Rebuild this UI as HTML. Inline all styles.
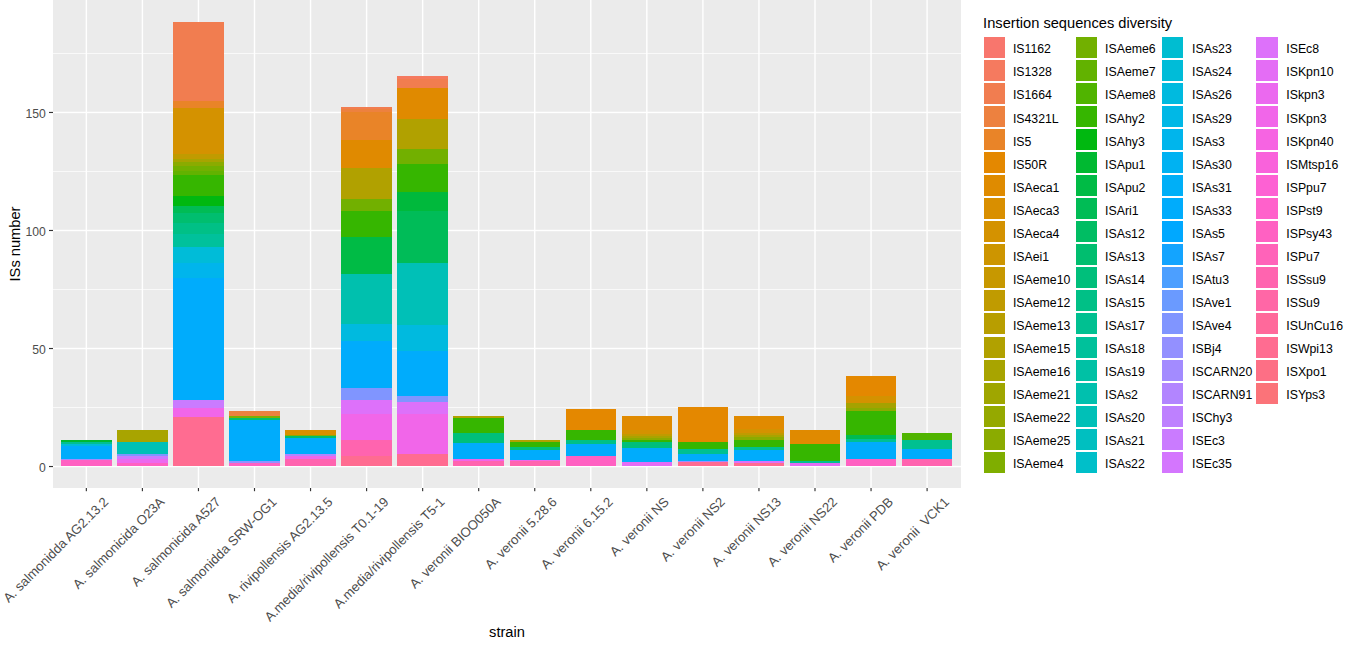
<!DOCTYPE html>
<html><head><meta charset="utf-8"><style>
html,body{margin:0;padding:0;background:#fff;}
body{width:1354px;height:647px;overflow:hidden;}
svg{display:block;}
text{font-family:"Liberation Sans",sans-serif;}
.ax{font-size:13.2px;fill:#4D4D4D;}
.ay{font-size:12.2px;fill:#4D4D4D;}
.ti{font-size:14.67px;fill:#000;}
.lg{font-size:12.3px;fill:#000;}
</style></head><body>
<svg width="1354" height="647" viewBox="0 0 1354 647">
<rect width="1354" height="647" fill="#fff"/>
<rect x="53" y="0" width="908" height="488" fill="#EBEBEB"/>
<rect x="53" y="407.16" width="908" height="0.71" fill="#FFFFFF"/>
<rect x="53" y="289.14" width="908" height="0.71" fill="#FFFFFF"/>
<rect x="53" y="171.13" width="908" height="0.71" fill="#FFFFFF"/>
<rect x="53" y="53.1" width="908" height="0.71" fill="#FFFFFF"/>
<rect x="53" y="465.82" width="908" height="1.42" fill="#FFFFFF"/>
<rect x="53" y="347.8" width="908" height="1.42" fill="#FFFFFF"/>
<rect x="53" y="229.78" width="908" height="1.42" fill="#FFFFFF"/>
<rect x="53" y="111.76" width="908" height="1.42" fill="#FFFFFF"/>
<rect x="85.64" y="0" width="1.42" height="488" fill="#FFFFFF"/>
<rect x="141.69" y="0" width="1.42" height="488" fill="#FFFFFF"/>
<rect x="197.74" y="0" width="1.42" height="488" fill="#FFFFFF"/>
<rect x="253.79" y="0" width="1.42" height="488" fill="#FFFFFF"/>
<rect x="309.84" y="0" width="1.42" height="488" fill="#FFFFFF"/>
<rect x="365.89" y="0" width="1.42" height="488" fill="#FFFFFF"/>
<rect x="421.94" y="0" width="1.42" height="488" fill="#FFFFFF"/>
<rect x="477.99" y="0" width="1.42" height="488" fill="#FFFFFF"/>
<rect x="534.04" y="0" width="1.42" height="488" fill="#FFFFFF"/>
<rect x="590.09" y="0" width="1.42" height="488" fill="#FFFFFF"/>
<rect x="646.14" y="0" width="1.42" height="488" fill="#FFFFFF"/>
<rect x="702.19" y="0" width="1.42" height="488" fill="#FFFFFF"/>
<rect x="758.24" y="0" width="1.42" height="488" fill="#FFFFFF"/>
<rect x="814.29" y="0" width="1.42" height="488" fill="#FFFFFF"/>
<rect x="870.34" y="0" width="1.42" height="488" fill="#FFFFFF"/>
<rect x="926.39" y="0" width="1.42" height="488" fill="#FFFFFF"/>
<rect x="61" y="460" width="51" height="6" fill="#FF61C2" shape-rendering="crispEdges"/>
<rect x="61" y="459" width="51" height="1" fill="#A38BFF" shape-rendering="crispEdges"/>
<rect x="61" y="446" width="51" height="13" fill="#00ACFC" shape-rendering="crispEdges"/>
<rect x="61" y="444" width="51" height="2" fill="#00BCD8" shape-rendering="crispEdges"/>
<rect x="61" y="442" width="51" height="2" fill="#00C091" shape-rendering="crispEdges"/>
<rect x="61" y="440" width="51" height="2" fill="#00B931" shape-rendering="crispEdges"/>
<rect x="117" y="463" width="51" height="3" fill="#FF61C2" shape-rendering="crispEdges"/>
<rect x="117" y="459" width="51" height="4" fill="#EB69EF" shape-rendering="crispEdges"/>
<rect x="117" y="456" width="51" height="3" fill="#CA7BFF" shape-rendering="crispEdges"/>
<rect x="117" y="454" width="51" height="2" fill="#8095FF" shape-rendering="crispEdges"/>
<rect x="117" y="442" width="51" height="12" fill="#00C0B7" shape-rendering="crispEdges"/>
<rect x="117" y="430" width="51" height="12" fill="#A8A400" shape-rendering="crispEdges"/>
<rect x="173" y="417" width="51" height="49" fill="#FF6C91" shape-rendering="crispEdges"/>
<rect x="173" y="408" width="51" height="9" fill="#F166E9" shape-rendering="crispEdges"/>
<rect x="173" y="400" width="51" height="8" fill="#CA7BFF" shape-rendering="crispEdges"/>
<rect x="173" y="278" width="51" height="122" fill="#00ACFC" shape-rendering="crispEdges"/>
<rect x="173" y="263" width="51" height="15" fill="#00B5EC" shape-rendering="crispEdges"/>
<rect x="173" y="247" width="51" height="16" fill="#00BCD8" shape-rendering="crispEdges"/>
<rect x="173" y="234" width="51" height="13" fill="#00C19B" shape-rendering="crispEdges"/>
<rect x="173" y="223" width="51" height="11" fill="#00C086" shape-rendering="crispEdges"/>
<rect x="173" y="213" width="51" height="10" fill="#00BE6F" shape-rendering="crispEdges"/>
<rect x="173" y="206" width="51" height="7" fill="#00BC55" shape-rendering="crispEdges"/>
<rect x="173" y="196" width="51" height="10" fill="#00B810" shape-rendering="crispEdges"/>
<rect x="173" y="175" width="51" height="21" fill="#36B600" shape-rendering="crispEdges"/>
<rect x="173" y="171" width="51" height="4" fill="#62B200" shape-rendering="crispEdges"/>
<rect x="173" y="166" width="51" height="5" fill="#72B000" shape-rendering="crispEdges"/>
<rect x="173" y="162" width="51" height="4" fill="#8BAB00" shape-rendering="crispEdges"/>
<rect x="173" y="159" width="51" height="3" fill="#A8A400" shape-rendering="crispEdges"/>
<rect x="173" y="154" width="51" height="5" fill="#C09B00" shape-rendering="crispEdges"/>
<rect x="173" y="108" width="51" height="46" fill="#D49200" shape-rendering="crispEdges"/>
<rect x="173" y="101" width="51" height="7" fill="#E98428" shape-rendering="crispEdges"/>
<rect x="173" y="22" width="51" height="79" fill="#F17D50" shape-rendering="crispEdges"/>
<rect x="229" y="463" width="51" height="3" fill="#FF61C2" shape-rendering="crispEdges"/>
<rect x="229" y="461" width="51" height="2" fill="#9390FF" shape-rendering="crispEdges"/>
<rect x="229" y="420" width="51" height="41" fill="#00ACFC" shape-rendering="crispEdges"/>
<rect x="229" y="418" width="51" height="2" fill="#00BE6F" shape-rendering="crispEdges"/>
<rect x="229" y="416" width="51" height="2" fill="#7FAE00" shape-rendering="crispEdges"/>
<rect x="229" y="411" width="51" height="5" fill="#ED813F" shape-rendering="crispEdges"/>
<rect x="285" y="459" width="51" height="7" fill="#FF64AF" shape-rendering="crispEdges"/>
<rect x="285" y="456" width="51" height="3" fill="#F166E9" shape-rendering="crispEdges"/>
<rect x="285" y="454" width="51" height="2" fill="#B285FF" shape-rendering="crispEdges"/>
<rect x="285" y="438" width="51" height="16" fill="#00ACFC" shape-rendering="crispEdges"/>
<rect x="285" y="436" width="51" height="2" fill="#00BE6F" shape-rendering="crispEdges"/>
<rect x="285" y="435" width="51" height="1" fill="#8BAB00" shape-rendering="crispEdges"/>
<rect x="285" y="430" width="51" height="5" fill="#D98F00" shape-rendering="crispEdges"/>
<rect x="341" y="456" width="51" height="10" fill="#FF6C91" shape-rendering="crispEdges"/>
<rect x="341" y="440" width="51" height="16" fill="#FF64AF" shape-rendering="crispEdges"/>
<rect x="341" y="414" width="51" height="26" fill="#F166E9" shape-rendering="crispEdges"/>
<rect x="341" y="400" width="51" height="14" fill="#DD71FA" shape-rendering="crispEdges"/>
<rect x="341" y="388" width="51" height="12" fill="#8095FF" shape-rendering="crispEdges"/>
<rect x="341" y="341" width="51" height="47" fill="#00ACFC" shape-rendering="crispEdges"/>
<rect x="341" y="324" width="51" height="17" fill="#00BADF" shape-rendering="crispEdges"/>
<rect x="341" y="274" width="51" height="50" fill="#00C0AE" shape-rendering="crispEdges"/>
<rect x="341" y="237" width="51" height="37" fill="#00BB45" shape-rendering="crispEdges"/>
<rect x="341" y="211" width="51" height="26" fill="#36B600" shape-rendering="crispEdges"/>
<rect x="341" y="199" width="51" height="12" fill="#72B000" shape-rendering="crispEdges"/>
<rect x="341" y="168" width="51" height="31" fill="#B1A100" shape-rendering="crispEdges"/>
<rect x="341" y="140" width="51" height="28" fill="#E08A00" shape-rendering="crispEdges"/>
<rect x="341" y="112" width="51" height="28" fill="#E98428" shape-rendering="crispEdges"/>
<rect x="341" y="109" width="51" height="3" fill="#ED813F" shape-rendering="crispEdges"/>
<rect x="341" y="107" width="51" height="2" fill="#F17D50" shape-rendering="crispEdges"/>
<rect x="397" y="454" width="51" height="12" fill="#FF6C91" shape-rendering="crispEdges"/>
<rect x="397" y="414" width="51" height="40" fill="#F166E9" shape-rendering="crispEdges"/>
<rect x="397" y="402" width="51" height="12" fill="#DD71FA" shape-rendering="crispEdges"/>
<rect x="397" y="396" width="51" height="6" fill="#8095FF" shape-rendering="crispEdges"/>
<rect x="397" y="351" width="51" height="45" fill="#00ACFC" shape-rendering="crispEdges"/>
<rect x="397" y="325" width="51" height="26" fill="#00BADF" shape-rendering="crispEdges"/>
<rect x="397" y="263" width="51" height="62" fill="#00C0B7" shape-rendering="crispEdges"/>
<rect x="397" y="211" width="51" height="52" fill="#00BC58" shape-rendering="crispEdges"/>
<rect x="397" y="192" width="51" height="19" fill="#00B93C" shape-rendering="crispEdges"/>
<rect x="397" y="164" width="51" height="28" fill="#36B600" shape-rendering="crispEdges"/>
<rect x="397" y="149" width="51" height="15" fill="#72B000" shape-rendering="crispEdges"/>
<rect x="397" y="119" width="51" height="30" fill="#B1A100" shape-rendering="crispEdges"/>
<rect x="397" y="88" width="51" height="31" fill="#E08A00" shape-rendering="crispEdges"/>
<rect x="397" y="79" width="51" height="9" fill="#F17D50" shape-rendering="crispEdges"/>
<rect x="397" y="76" width="51" height="3" fill="#F57A5F" shape-rendering="crispEdges"/>
<rect x="453" y="461" width="51" height="5" fill="#FF64AF" shape-rendering="crispEdges"/>
<rect x="453" y="459" width="51" height="2" fill="#F166E9" shape-rendering="crispEdges"/>
<rect x="453" y="443" width="51" height="16" fill="#00ACFC" shape-rendering="crispEdges"/>
<rect x="453" y="433" width="51" height="10" fill="#00BF7B" shape-rendering="crispEdges"/>
<rect x="453" y="418" width="51" height="15" fill="#36B600" shape-rendering="crispEdges"/>
<rect x="453" y="416" width="51" height="2" fill="#B1A100" shape-rendering="crispEdges"/>
<rect x="510" y="461" width="50" height="5" fill="#FF64AF" shape-rendering="crispEdges"/>
<rect x="510" y="460" width="50" height="1" fill="#F166E9" shape-rendering="crispEdges"/>
<rect x="510" y="450" width="50" height="10" fill="#00ACFC" shape-rendering="crispEdges"/>
<rect x="510" y="447" width="50" height="3" fill="#00BF7B" shape-rendering="crispEdges"/>
<rect x="510" y="442" width="50" height="5" fill="#36B600" shape-rendering="crispEdges"/>
<rect x="510" y="440" width="50" height="2" fill="#B1A100" shape-rendering="crispEdges"/>
<rect x="566" y="456" width="50" height="10" fill="#FF61C2" shape-rendering="crispEdges"/>
<rect x="566" y="444" width="50" height="12" fill="#00ACFC" shape-rendering="crispEdges"/>
<rect x="566" y="440" width="50" height="4" fill="#00C086" shape-rendering="crispEdges"/>
<rect x="566" y="430" width="50" height="10" fill="#36B600" shape-rendering="crispEdges"/>
<rect x="566" y="409" width="50" height="21" fill="#E48800" shape-rendering="crispEdges"/>
<rect x="622" y="462" width="50" height="4" fill="#E46DF5" shape-rendering="crispEdges"/>
<rect x="622" y="448" width="50" height="14" fill="#00ACFC" shape-rendering="crispEdges"/>
<rect x="622" y="442" width="50" height="6" fill="#00BF7B" shape-rendering="crispEdges"/>
<rect x="622" y="440" width="50" height="2" fill="#36B600" shape-rendering="crispEdges"/>
<rect x="622" y="438" width="50" height="2" fill="#8BAB00" shape-rendering="crispEdges"/>
<rect x="622" y="436" width="50" height="2" fill="#A8A400" shape-rendering="crispEdges"/>
<rect x="622" y="434" width="50" height="2" fill="#C09B00" shape-rendering="crispEdges"/>
<rect x="622" y="430" width="50" height="4" fill="#D49200" shape-rendering="crispEdges"/>
<rect x="622" y="416" width="50" height="14" fill="#E08A00" shape-rendering="crispEdges"/>
<rect x="678" y="462" width="50" height="4" fill="#FF6C91" shape-rendering="crispEdges"/>
<rect x="678" y="461" width="50" height="1" fill="#A38BFF" shape-rendering="crispEdges"/>
<rect x="678" y="454" width="50" height="7" fill="#00ACFC" shape-rendering="crispEdges"/>
<rect x="678" y="449" width="50" height="5" fill="#00C091" shape-rendering="crispEdges"/>
<rect x="678" y="442" width="50" height="7" fill="#36B600" shape-rendering="crispEdges"/>
<rect x="678" y="407" width="50" height="35" fill="#E48800" shape-rendering="crispEdges"/>
<rect x="734" y="463" width="50" height="3" fill="#FF6C91" shape-rendering="crispEdges"/>
<rect x="734" y="461" width="50" height="2" fill="#DD71FA" shape-rendering="crispEdges"/>
<rect x="734" y="450" width="50" height="11" fill="#00ACFC" shape-rendering="crispEdges"/>
<rect x="734" y="447" width="50" height="3" fill="#00C091" shape-rendering="crispEdges"/>
<rect x="734" y="440" width="50" height="7" fill="#36B600" shape-rendering="crispEdges"/>
<rect x="734" y="437" width="50" height="3" fill="#8BAB00" shape-rendering="crispEdges"/>
<rect x="734" y="435" width="50" height="2" fill="#A8A400" shape-rendering="crispEdges"/>
<rect x="734" y="433" width="50" height="2" fill="#C09B00" shape-rendering="crispEdges"/>
<rect x="734" y="429" width="50" height="4" fill="#D49200" shape-rendering="crispEdges"/>
<rect x="734" y="416" width="50" height="13" fill="#E08A00" shape-rendering="crispEdges"/>
<rect x="790" y="463" width="50" height="3" fill="#E46DF5" shape-rendering="crispEdges"/>
<rect x="790" y="461" width="50" height="2" fill="#00C091" shape-rendering="crispEdges"/>
<rect x="790" y="444" width="50" height="17" fill="#36B600" shape-rendering="crispEdges"/>
<rect x="790" y="430" width="50" height="14" fill="#E08A00" shape-rendering="crispEdges"/>
<rect x="846" y="459" width="50" height="7" fill="#FF61C2" shape-rendering="crispEdges"/>
<rect x="846" y="442" width="50" height="17" fill="#00ACFC" shape-rendering="crispEdges"/>
<rect x="846" y="439" width="50" height="3" fill="#00C091" shape-rendering="crispEdges"/>
<rect x="846" y="435" width="50" height="4" fill="#00BB50" shape-rendering="crispEdges"/>
<rect x="846" y="411" width="50" height="24" fill="#36B600" shape-rendering="crispEdges"/>
<rect x="846" y="408" width="50" height="3" fill="#8BAB00" shape-rendering="crispEdges"/>
<rect x="846" y="403" width="50" height="5" fill="#A5A200" shape-rendering="crispEdges"/>
<rect x="846" y="396" width="50" height="7" fill="#D49200" shape-rendering="crispEdges"/>
<rect x="846" y="376" width="50" height="20" fill="#E48800" shape-rendering="crispEdges"/>
<rect x="902" y="459" width="50" height="7" fill="#FF64AF" shape-rendering="crispEdges"/>
<rect x="902" y="449" width="50" height="10" fill="#00ACFC" shape-rendering="crispEdges"/>
<rect x="902" y="440" width="50" height="9" fill="#00C091" shape-rendering="crispEdges"/>
<rect x="902" y="433" width="50" height="7" fill="#50B400" shape-rendering="crispEdges"/>
<rect x="49" y="465.95" width="4" height="1.15" fill="#333333"/>
<text x="45.8" y="472.13" text-anchor="end" class="ay">0</text>
<rect x="49" y="347.94" width="4" height="1.15" fill="#333333"/>
<text x="45.8" y="354.11" text-anchor="end" class="ay">50</text>
<rect x="49" y="229.91" width="4" height="1.15" fill="#333333"/>
<text x="45.8" y="236.09" text-anchor="end" class="ay">100</text>
<rect x="49" y="111.89" width="4" height="1.15" fill="#333333"/>
<text x="45.8" y="118.07" text-anchor="end" class="ay">150</text>
<rect x="85.77" y="488" width="1.15" height="3.2" fill="#333333"/>
<text x="109.25" y="502.7" text-anchor="end" class="ax" transform="rotate(-45 109.25 502.7)">A. salmonidda AG2.13.2</text>
<rect x="141.82" y="488" width="1.15" height="3.2" fill="#333333"/>
<text x="165.3" y="502.7" text-anchor="end" class="ax" transform="rotate(-45 165.3 502.7)">A. salmonicida O23A</text>
<rect x="197.88" y="488" width="1.15" height="3.2" fill="#333333"/>
<text x="221.35" y="502.7" text-anchor="end" class="ax" transform="rotate(-45 221.35 502.7)">A. salmonicida A527</text>
<rect x="253.92" y="488" width="1.15" height="3.2" fill="#333333"/>
<text x="277.4" y="502.7" text-anchor="end" class="ax" transform="rotate(-45 277.4 502.7)">A. salmonidda SRW-OG1</text>
<rect x="309.97" y="488" width="1.15" height="3.2" fill="#333333"/>
<text x="333.45" y="502.7" text-anchor="end" class="ax" transform="rotate(-45 333.45 502.7)">A. rivipollensis AG2.13.5</text>
<rect x="366.03" y="488" width="1.15" height="3.2" fill="#333333"/>
<text x="389.5" y="502.7" text-anchor="end" class="ax" transform="rotate(-45 389.5 502.7)">A.media/rivipollensis T0.1-19</text>
<rect x="422.07" y="488" width="1.15" height="3.2" fill="#333333"/>
<text x="445.55" y="502.7" text-anchor="end" class="ax" transform="rotate(-45 445.55 502.7)">A.media/rivipollensis T5-1</text>
<rect x="478.12" y="488" width="1.15" height="3.2" fill="#333333"/>
<text x="501.6" y="502.7" text-anchor="end" class="ax" transform="rotate(-45 501.6 502.7)">A. veronii BIOO050A</text>
<rect x="534.17" y="488" width="1.15" height="3.2" fill="#333333"/>
<text x="557.65" y="502.7" text-anchor="end" class="ax" transform="rotate(-45 557.65 502.7)">A. veronii 5.28.6</text>
<rect x="590.22" y="488" width="1.15" height="3.2" fill="#333333"/>
<text x="613.7" y="502.7" text-anchor="end" class="ax" transform="rotate(-45 613.7 502.7)">A. veronii 6.15.2</text>
<rect x="646.27" y="488" width="1.15" height="3.2" fill="#333333"/>
<text x="669.75" y="502.7" text-anchor="end" class="ax" transform="rotate(-45 669.75 502.7)">A. veronii NS</text>
<rect x="702.32" y="488" width="1.15" height="3.2" fill="#333333"/>
<text x="725.8" y="502.7" text-anchor="end" class="ax" transform="rotate(-45 725.8 502.7)">A. veronii NS2</text>
<rect x="758.37" y="488" width="1.15" height="3.2" fill="#333333"/>
<text x="781.85" y="502.7" text-anchor="end" class="ax" transform="rotate(-45 781.85 502.7)">A. veronii NS13</text>
<rect x="814.42" y="488" width="1.15" height="3.2" fill="#333333"/>
<text x="837.9" y="502.7" text-anchor="end" class="ax" transform="rotate(-45 837.9 502.7)">A. veronii NS22</text>
<rect x="870.47" y="488" width="1.15" height="3.2" fill="#333333"/>
<text x="893.95" y="502.7" text-anchor="end" class="ax" transform="rotate(-45 893.95 502.7)">A. veronii PDB</text>
<rect x="926.52" y="488" width="1.15" height="3.2" fill="#333333"/>
<text x="950" y="502.7" text-anchor="end" class="ax" transform="rotate(-45 950 502.7)">A. veronii&#160; VCK1</text>
<text x="507" y="637" text-anchor="middle" class="ti">strain</text>
<text x="20.2" y="244" text-anchor="middle" class="ti" transform="rotate(-90 20.2 244)">ISs number</text>
<text x="983.1" y="27.7" class="ti">Insertion sequences diversity</text>
<rect x="984" y="37" width="21" height="21" fill="#F8766D" shape-rendering="crispEdges"/>
<text x="1012.9" y="53" class="lg">IS1162</text>
<rect x="984" y="60" width="21" height="21" fill="#F57A5F" shape-rendering="crispEdges"/>
<text x="1012.9" y="76" class="lg">IS1328</text>
<rect x="984" y="83" width="21" height="21" fill="#F17D50" shape-rendering="crispEdges"/>
<text x="1012.9" y="99" class="lg">IS1664</text>
<rect x="984" y="106" width="21" height="21" fill="#ED813F" shape-rendering="crispEdges"/>
<text x="1012.9" y="123" class="lg">IS4321L</text>
<rect x="984" y="129" width="21" height="21" fill="#E98428" shape-rendering="crispEdges"/>
<text x="1012.9" y="146" class="lg">IS5</text>
<rect x="984" y="152" width="21" height="21" fill="#E48800" shape-rendering="crispEdges"/>
<text x="1012.9" y="169" class="lg">IS50R</text>
<rect x="984" y="175" width="21" height="21" fill="#DF8B00" shape-rendering="crispEdges"/>
<text x="1012.9" y="192" class="lg">ISAeca1</text>
<rect x="984" y="198" width="21" height="21" fill="#D98F00" shape-rendering="crispEdges"/>
<text x="1012.9" y="215" class="lg">ISAeca3</text>
<rect x="984" y="221" width="21" height="21" fill="#D49200" shape-rendering="crispEdges"/>
<text x="1012.9" y="238" class="lg">ISAeca4</text>
<rect x="984" y="244" width="21" height="21" fill="#CD9500" shape-rendering="crispEdges"/>
<text x="1012.9" y="261" class="lg">ISAei1</text>
<rect x="984" y="267" width="21" height="21" fill="#C79800" shape-rendering="crispEdges"/>
<text x="1012.9" y="284" class="lg">ISAeme10</text>
<rect x="984" y="290" width="21" height="21" fill="#C09B00" shape-rendering="crispEdges"/>
<text x="1012.9" y="307" class="lg">ISAeme12</text>
<rect x="984" y="313" width="21" height="21" fill="#B89E00" shape-rendering="crispEdges"/>
<text x="1012.9" y="330" class="lg">ISAeme13</text>
<rect x="984" y="337" width="21" height="21" fill="#B1A100" shape-rendering="crispEdges"/>
<text x="1012.9" y="353" class="lg">ISAeme15</text>
<rect x="984" y="360" width="21" height="21" fill="#A8A400" shape-rendering="crispEdges"/>
<text x="1012.9" y="376" class="lg">ISAeme16</text>
<rect x="984" y="383" width="21" height="21" fill="#9FA600" shape-rendering="crispEdges"/>
<text x="1012.9" y="399" class="lg">ISAeme21</text>
<rect x="984" y="406" width="21" height="21" fill="#95A900" shape-rendering="crispEdges"/>
<text x="1012.9" y="422" class="lg">ISAeme22</text>
<rect x="984" y="429" width="21" height="21" fill="#8BAB00" shape-rendering="crispEdges"/>
<text x="1012.9" y="445" class="lg">ISAeme25</text>
<rect x="984" y="452" width="21" height="21" fill="#7FAE00" shape-rendering="crispEdges"/>
<text x="1012.9" y="468" class="lg">ISAeme4</text>
<rect x="1076" y="37" width="21" height="21" fill="#72B000" shape-rendering="crispEdges"/>
<text x="1105.1" y="53" class="lg">ISAeme6</text>
<rect x="1076" y="60" width="21" height="21" fill="#62B200" shape-rendering="crispEdges"/>
<text x="1105.1" y="76" class="lg">ISAeme7</text>
<rect x="1076" y="83" width="21" height="21" fill="#50B400" shape-rendering="crispEdges"/>
<text x="1105.1" y="99" class="lg">ISAeme8</text>
<rect x="1076" y="106" width="21" height="21" fill="#36B600" shape-rendering="crispEdges"/>
<text x="1105.1" y="123" class="lg">ISAhy2</text>
<rect x="1076" y="129" width="21" height="21" fill="#00B810" shape-rendering="crispEdges"/>
<text x="1105.1" y="146" class="lg">ISAhy3</text>
<rect x="1076" y="152" width="21" height="21" fill="#00B931" shape-rendering="crispEdges"/>
<text x="1105.1" y="169" class="lg">ISApu1</text>
<rect x="1076" y="175" width="21" height="21" fill="#00BB45" shape-rendering="crispEdges"/>
<text x="1105.1" y="192" class="lg">ISApu2</text>
<rect x="1076" y="198" width="21" height="21" fill="#00BC55" shape-rendering="crispEdges"/>
<text x="1105.1" y="215" class="lg">ISAri1</text>
<rect x="1076" y="221" width="21" height="21" fill="#00BD63" shape-rendering="crispEdges"/>
<text x="1105.1" y="238" class="lg">ISAs12</text>
<rect x="1076" y="244" width="21" height="21" fill="#00BE6F" shape-rendering="crispEdges"/>
<text x="1105.1" y="261" class="lg">ISAs13</text>
<rect x="1076" y="267" width="21" height="21" fill="#00BF7B" shape-rendering="crispEdges"/>
<text x="1105.1" y="284" class="lg">ISAs14</text>
<rect x="1076" y="290" width="21" height="21" fill="#00C086" shape-rendering="crispEdges"/>
<text x="1105.1" y="307" class="lg">ISAs15</text>
<rect x="1076" y="313" width="21" height="21" fill="#00C091" shape-rendering="crispEdges"/>
<text x="1105.1" y="330" class="lg">ISAs17</text>
<rect x="1076" y="337" width="21" height="21" fill="#00C19B" shape-rendering="crispEdges"/>
<text x="1105.1" y="353" class="lg">ISAs18</text>
<rect x="1076" y="360" width="21" height="21" fill="#00C1A5" shape-rendering="crispEdges"/>
<text x="1105.1" y="376" class="lg">ISAs19</text>
<rect x="1076" y="383" width="21" height="21" fill="#00C0AE" shape-rendering="crispEdges"/>
<text x="1105.1" y="399" class="lg">ISAs2</text>
<rect x="1076" y="406" width="21" height="21" fill="#00C0B7" shape-rendering="crispEdges"/>
<text x="1105.1" y="422" class="lg">ISAs20</text>
<rect x="1076" y="429" width="21" height="21" fill="#00BFC0" shape-rendering="crispEdges"/>
<text x="1105.1" y="445" class="lg">ISAs21</text>
<rect x="1076" y="452" width="21" height="21" fill="#00BFC9" shape-rendering="crispEdges"/>
<text x="1105.1" y="468" class="lg">ISAs22</text>
<rect x="1162" y="37" width="21" height="21" fill="#00BDD1" shape-rendering="crispEdges"/>
<text x="1192.1" y="53" class="lg">ISAs23</text>
<rect x="1162" y="60" width="21" height="21" fill="#00BCD8" shape-rendering="crispEdges"/>
<text x="1192.1" y="76" class="lg">ISAs24</text>
<rect x="1162" y="83" width="21" height="21" fill="#00BADF" shape-rendering="crispEdges"/>
<text x="1192.1" y="99" class="lg">ISAs26</text>
<rect x="1162" y="106" width="21" height="21" fill="#00B8E6" shape-rendering="crispEdges"/>
<text x="1192.1" y="123" class="lg">ISAs29</text>
<rect x="1162" y="129" width="21" height="21" fill="#00B5EC" shape-rendering="crispEdges"/>
<text x="1192.1" y="146" class="lg">ISAs3</text>
<rect x="1162" y="152" width="21" height="21" fill="#00B2F2" shape-rendering="crispEdges"/>
<text x="1192.1" y="169" class="lg">ISAs30</text>
<rect x="1162" y="175" width="21" height="21" fill="#00AFF7" shape-rendering="crispEdges"/>
<text x="1192.1" y="192" class="lg">ISAs31</text>
<rect x="1162" y="198" width="21" height="21" fill="#00ACFC" shape-rendering="crispEdges"/>
<text x="1192.1" y="215" class="lg">ISAs33</text>
<rect x="1162" y="221" width="21" height="21" fill="#00A8FF" shape-rendering="crispEdges"/>
<text x="1192.1" y="238" class="lg">ISAs5</text>
<rect x="1162" y="244" width="21" height="21" fill="#13A4FF" shape-rendering="crispEdges"/>
<text x="1192.1" y="261" class="lg">ISAs7</text>
<rect x="1162" y="267" width="21" height="21" fill="#4C9FFF" shape-rendering="crispEdges"/>
<text x="1192.1" y="284" class="lg">ISAtu3</text>
<rect x="1162" y="290" width="21" height="21" fill="#6A9AFF" shape-rendering="crispEdges"/>
<text x="1192.1" y="307" class="lg">ISAve1</text>
<rect x="1162" y="313" width="21" height="21" fill="#8095FF" shape-rendering="crispEdges"/>
<text x="1192.1" y="330" class="lg">ISAve4</text>
<rect x="1162" y="337" width="21" height="21" fill="#9390FF" shape-rendering="crispEdges"/>
<text x="1192.1" y="353" class="lg">ISBj4</text>
<rect x="1162" y="360" width="21" height="21" fill="#A38BFF" shape-rendering="crispEdges"/>
<text x="1192.1" y="376" class="lg">ISCARN20</text>
<rect x="1162" y="383" width="21" height="21" fill="#B285FF" shape-rendering="crispEdges"/>
<text x="1192.1" y="399" class="lg">ISCARN91</text>
<rect x="1162" y="406" width="21" height="21" fill="#BE80FF" shape-rendering="crispEdges"/>
<text x="1192.1" y="422" class="lg">ISChy3</text>
<rect x="1162" y="429" width="21" height="21" fill="#CA7BFF" shape-rendering="crispEdges"/>
<text x="1192.1" y="445" class="lg">ISEc3</text>
<rect x="1162" y="452" width="21" height="21" fill="#D476FE" shape-rendering="crispEdges"/>
<text x="1192.1" y="468" class="lg">ISEc35</text>
<rect x="1256" y="37" width="22" height="21" fill="#DD71FA" shape-rendering="crispEdges"/>
<text x="1286.3" y="53" class="lg">ISEc8</text>
<rect x="1256" y="60" width="22" height="21" fill="#E46DF5" shape-rendering="crispEdges"/>
<text x="1286.3" y="76" class="lg">ISKpn10</text>
<rect x="1256" y="83" width="22" height="21" fill="#EB69EF" shape-rendering="crispEdges"/>
<text x="1286.3" y="99" class="lg">ISkpn3</text>
<rect x="1256" y="106" width="22" height="21" fill="#F166E9" shape-rendering="crispEdges"/>
<text x="1286.3" y="123" class="lg">ISKpn3</text>
<rect x="1256" y="129" width="22" height="21" fill="#F664E2" shape-rendering="crispEdges"/>
<text x="1286.3" y="146" class="lg">ISKpn40</text>
<rect x="1256" y="152" width="22" height="21" fill="#F962DB" shape-rendering="crispEdges"/>
<text x="1286.3" y="169" class="lg">ISMtsp16</text>
<rect x="1256" y="175" width="22" height="21" fill="#FD61D3" shape-rendering="crispEdges"/>
<text x="1286.3" y="192" class="lg">ISPpu7</text>
<rect x="1256" y="198" width="22" height="21" fill="#FF61CB" shape-rendering="crispEdges"/>
<text x="1286.3" y="215" class="lg">ISPst9</text>
<rect x="1256" y="221" width="22" height="21" fill="#FF61C2" shape-rendering="crispEdges"/>
<text x="1286.3" y="238" class="lg">ISPsy43</text>
<rect x="1256" y="244" width="22" height="21" fill="#FF63B9" shape-rendering="crispEdges"/>
<text x="1286.3" y="261" class="lg">ISPu7</text>
<rect x="1256" y="267" width="22" height="21" fill="#FF64AF" shape-rendering="crispEdges"/>
<text x="1286.3" y="284" class="lg">ISSsu9</text>
<rect x="1256" y="290" width="22" height="21" fill="#FF67A6" shape-rendering="crispEdges"/>
<text x="1286.3" y="307" class="lg">ISSu9</text>
<rect x="1256" y="313" width="22" height="21" fill="#FF699B" shape-rendering="crispEdges"/>
<text x="1286.3" y="330" class="lg">ISUnCu16</text>
<rect x="1256" y="337" width="22" height="21" fill="#FF6C91" shape-rendering="crispEdges"/>
<text x="1286.3" y="353" class="lg">ISWpi13</text>
<rect x="1256" y="360" width="22" height="21" fill="#FD6F85" shape-rendering="crispEdges"/>
<text x="1286.3" y="376" class="lg">ISXpo1</text>
<rect x="1256" y="383" width="22" height="21" fill="#FB7379" shape-rendering="crispEdges"/>
<text x="1286.3" y="399" class="lg">ISYps3</text>
</svg>
</body></html>
